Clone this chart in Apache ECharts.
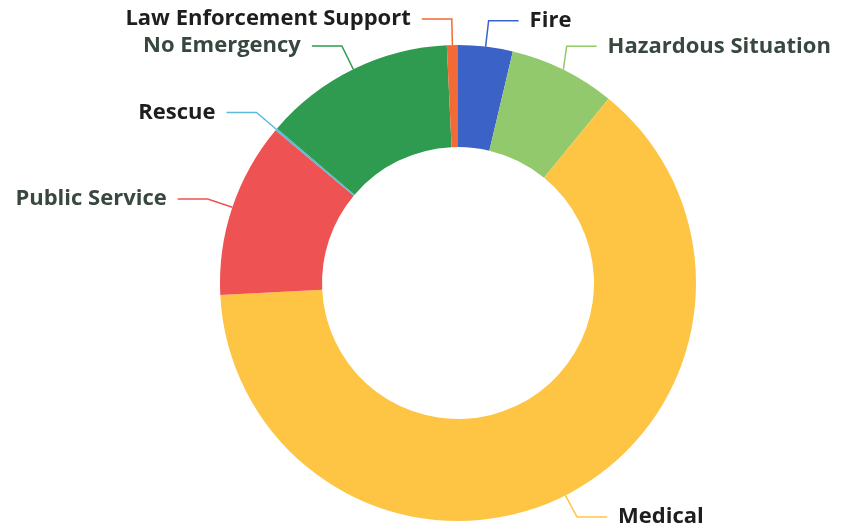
<!DOCTYPE html>
<html>
<head>
<meta charset="utf-8">
<script src="https://cdn.jsdelivr.net/npm/echarts@6/dist/echarts.min.js"></script>
<style>
  html, body { margin: 0; padding: 0; background: #fff; }
  #chart { width: 854px; height: 529px; }
</style>
</head>
<body>
<div id="chart"></div>
<script>
// incident types, clockwise from 12 o'clock
const categories = ['Fire', 'Hazardous Situation', 'Medical', 'Public Service', 'Rescue', 'No Emergency', 'Law Enforcement Support'];
const counts = [37, 72, 633, 119, 1.5, 130, 7.5];

const chart = echarts.init(document.getElementById('chart'));

const slate = ['Hazardous Situation', 'Public Service', 'No Emergency'];

const option = {
  animation: false,
  color: ['#3b62c6', '#92c96c', '#fec544', '#ee5252', '#5cb9d8', '#2f9b50', '#f26a36'],
  series: [{
    type: 'pie',
    center: [458, 283],
    radius: [136, 238],
    startAngle: 90,
    clockwise: true,
    avoidLabelOverlap: true,
    label: {
      show: true,
      position: 'outside',
      fontFamily: 'Open Sans',
      fontWeight: 'bold',
      fontSize: 22,
      color: '#1e1e1e',
      distanceToLabelLine: 11
    },
    labelLine: {
      show: true,
      length: 26,
      length2: 30,
      lineStyle: { width: 1.5 }
    },
    data: categories.map((name, i) => ({
      name,
      value: counts[i],
      label: slate.includes(name) ? { color: '#38483f' } : undefined
    }))
  }]
};
chart.setOption(option);
</script>
</body>
</html>
